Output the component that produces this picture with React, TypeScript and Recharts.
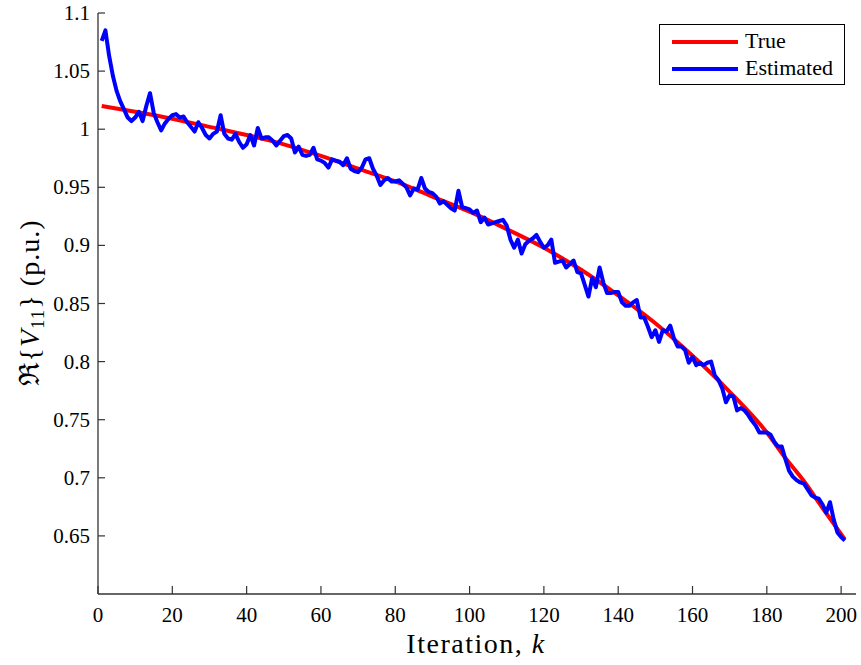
import React from "react";
import { Line, LineChart, XAxis, YAxis } from "recharts";

// true value sampled every ~10 iterations
const trueK = [1, 10, 20, 30, 40, 50, 60, 70, 80, 90, 100, 110, 120, 130, 140, 150, 160, 170, 180, 185, 190, 195, 201];
const trueV = [
  1.02, 1.015, 1.009, 1.002, 0.995, 0.987, 0.977, 0.966, 0.955, 0.942, 0.929, 0.914, 0.898, 0.879,
  0.857, 0.833, 0.805, 0.774, 0.739, 0.717, 0.697, 0.674, 0.647,
];

// estimated value, one per iteration k = 1..201
const estV = [
  1.076, 1.085, 1.063, 1.046, 1.033, 1.024, 1.017, 1.01, 1.007, 1.01,
  1.015, 1.007, 1.02, 1.031, 1.014, 1.006, 0.999, 1.005, 1.009, 1.012,
  1.013, 1.01, 1.011, 1.006, 1.002, 0.998, 1.006, 1.001, 0.995, 0.992,
  0.996, 0.998, 1.012, 0.996, 0.992, 0.991, 0.996, 0.989, 0.984, 0.987,
  0.995, 0.986, 1.001, 0.992, 0.993, 0.993, 0.99, 0.986, 0.99, 0.994,
  0.995, 0.992, 0.98, 0.985, 0.978, 0.977, 0.978, 0.984, 0.974, 0.973,
  0.971, 0.967, 0.974, 0.973, 0.972, 0.969, 0.975, 0.966, 0.964, 0.963,
  0.967, 0.974, 0.975, 0.966, 0.96, 0.952, 0.956, 0.958, 0.955, 0.955,
  0.956, 0.953, 0.95, 0.943, 0.949, 0.948, 0.958, 0.949, 0.946, 0.945,
  0.942, 0.936, 0.938, 0.935, 0.932, 0.93, 0.947, 0.933, 0.932, 0.931,
  0.928, 0.93, 0.92, 0.924, 0.918, 0.919, 0.92, 0.921, 0.922, 0.917,
  0.905, 0.898, 0.905, 0.893, 0.901, 0.904, 0.906, 0.909, 0.903, 0.898,
  0.9, 0.905, 0.885, 0.886, 0.887, 0.881, 0.884, 0.887, 0.877, 0.876,
  0.866, 0.856, 0.872, 0.864, 0.881, 0.868, 0.859, 0.859, 0.86, 0.86,
  0.851, 0.848, 0.848, 0.851, 0.853, 0.838, 0.838, 0.83, 0.821, 0.827,
  0.817, 0.827, 0.826, 0.831, 0.82, 0.813, 0.813, 0.81, 0.799, 0.804,
  0.797, 0.799, 0.797, 0.799, 0.8, 0.788, 0.784, 0.777, 0.765, 0.771,
  0.77, 0.758, 0.76, 0.758, 0.754, 0.749, 0.745, 0.739, 0.739, 0.739,
  0.737, 0.731, 0.727, 0.727, 0.716, 0.706, 0.701, 0.698, 0.696, 0.695,
  0.69, 0.685, 0.683, 0.682, 0.677, 0.67, 0.679, 0.664, 0.653, 0.649,
  0.646,
];

const xTicks = [0, 20, 40, 60, 80, 100, 120, 140, 160, 180, 200];
const yTicks = [0.65, 0.7, 0.75, 0.8, 0.85, 0.9, 0.95, 1, 1.05, 1.1];

const trueData = trueK.map((k, i) => ({ k, v: trueV[i] }));
const estData = estV.map((v, i) => ({ k: i + 1, v }));

const FONT = "Liberation Serif, DejaVu Serif, serif";
const AXIS = "#333";

const YTick = (props: any) => {
  const { y, payload } = props;
  return (
    <g>
      <line x1={98} x2={105} y1={y} y2={y} stroke={AXIS} strokeWidth={1.2} />
      <text x={90} y={y + 7} textAnchor="end" fontFamily={FONT} fontSize={21} fill="#000">
        {String(payload.value)}
      </text>
    </g>
  );
};

const XTick = (props: any) => {
  const { x, payload } = props;
  return (
    <g>
      <line x1={x} x2={x} y1={594} y2={586} stroke={AXIS} strokeWidth={1.2} />
      <text x={x} y={622} textAnchor="middle" fontFamily={FONT} fontSize={21} fill="#000">
        {String(payload.value)}
      </text>
    </g>
  );
};

const legendItems = [
  { name: "True", color: "#ff0000", top: 17 },
  { name: "Estimated", color: "#0000ff", top: 44 },
];

export default function App() {
  return (
    <div
      style={{
        position: "absolute",
        left: 0,
        top: 0,
        width: 861,
        height: 665,
        background: "#fff",
        fontFamily: FONT,
      }}
    >
      <LineChart
        width={861}
        height={665}
        margin={{ top: 13, right: 5, bottom: 0, left: 0 }}
        style={{ fontFamily: FONT }}
      >
        <XAxis
          type="number"
          dataKey="k"
          domain={[0, 204]}
          ticks={xTicks}
          allowDataOverflow
          height={71}
          tickLine={false}
          axisLine={{ stroke: AXIS, strokeWidth: 1.3 }}
          tick={<XTick />}
        />
        <YAxis
          type="number"
          dataKey="v"
          domain={[0.6, 1.1]}
          ticks={yTicks}
          allowDataOverflow
          width={98}
          tickLine={false}
          axisLine={{ stroke: AXIS, strokeWidth: 1.3 }}
          tick={<YTick />}
        />
        <Line
          data={trueData}
          dataKey="v"
          type="monotone"
          stroke="#ff0000"
          strokeWidth={4}
          dot={false}
          isAnimationActive={false}
        />
        <Line
          data={estData}
          dataKey="v"
          type="linear"
          stroke="#0000ff"
          strokeWidth={4}
          strokeLinejoin="round"
          dot={false}
          isAnimationActive={false}
        />
        <text
          x={476}
          y={653}
          textAnchor="middle"
          fontFamily={FONT}
          fontSize={28}
          letterSpacing={1.5}
          fill="#000"
        >
          Iteration, <tspan fontStyle="italic">k</tspan>
        </text>
        <text
          x={0}
          y={0}
          transform="translate(39,303) rotate(-90)"
          textAnchor="middle"
          fontFamily={FONT}
          fontSize={28}
          letterSpacing={1}
          fill="#000"
        >
          ℜ{"{"}
          <tspan fontStyle="italic">V</tspan>
          <tspan fontSize={19} dy={5}>11</tspan>
          <tspan dy={-5}>{"}"} (p.u.)</tspan>
        </text>
      </LineChart>
      <div
        style={{
          position: "absolute",
          left: 659,
          top: 24,
          width: 184,
          height: 59,
          border: "1.5px solid #000",
          background: "#fff",
          fontSize: 22,
        }}
      >
        {legendItems.map((it) => (
          <div key={it.name}>
            <div
              style={{
                position: "absolute",
                left: 12,
                top: it.top - 2,
                width: 66,
                height: 4,
                background: it.color,
              }}
            />
            <div style={{ position: "absolute", left: 85, top: it.top - 12, lineHeight: "22px", color: "#000" }}>
              {it.name}
            </div>
          </div>
        ))}
      </div>
    </div>
  );
}
